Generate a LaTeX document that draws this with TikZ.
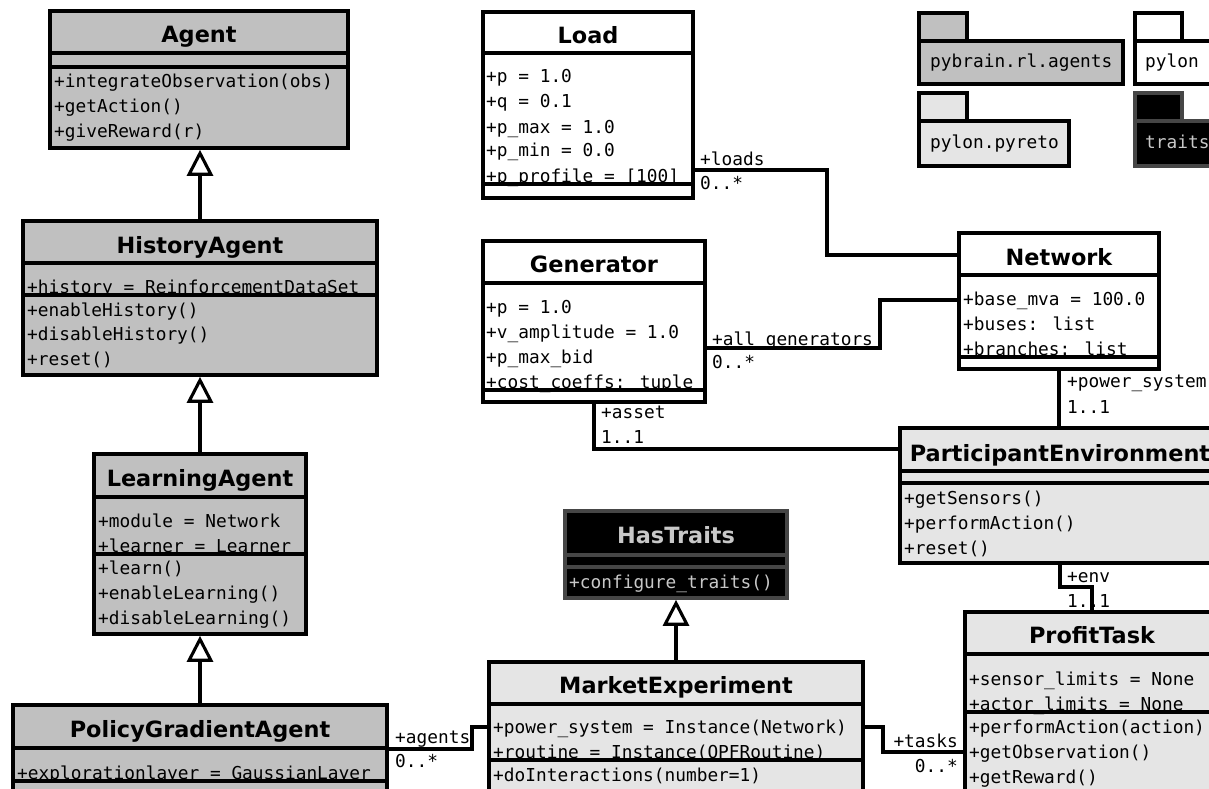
\documentclass[tikz,border=0pt]{standalone}
\usepackage{fontspec}
\setmainfont{DejaVu Sans}
\newfontfamily\umlmono{DejaVu Sans Mono}
\usetikzlibrary{calc,arrows.meta}
\definecolor{agentgray}{RGB}{192,192,192}
\definecolor{pyretogray}{RGB}{229,229,229}
\definecolor{traitsedge}{RGB}{70,70,70}
\definecolor{traitstext}{RGB}{200,200,200}
\tikzset{
  box/.style={draw=black, line width=3.1pt, inner sep=0pt, outer sep=0pt},
  sepline/.style={line width=3.1pt},
  ttl/.style={font=\fontsize{22.4}{26}\selectfont\bfseries, anchor=base, inner sep=0pt},
  mem/.style={font=\umlmono\fontsize{17.8}{20}\selectfont, anchor=base west, inner sep=0pt},
  lbl/.style={mem},
  lblr/.style={mem, anchor=base east},
  conn/.style={line width=3.1pt},
  gen/.style={line width=3.1pt, -{Triangle[open,length=26pt,width=26pt]}, shorten >=1.8pt},
}
\newcommand{\umlbox}[7][black]{\node[box, draw=#1, fill=#7, minimum width=#5pt, minimum height=#6pt, anchor=north west] (#2) at (#3,#4) {};}
\newcommand{\umlsep}[4][black]{%
  \draw[sepline, draw=#1] ($(#2.north west)+(0,#3)$) -- ($(#2.north east)+(0,#3)$);
  \draw[sepline, draw=#1] ($(#2.north west)+(0,#4)$) -- ($(#2.north east)+(0,#4)$);}
\begin{document}
\begin{tikzpicture}[x=1pt,y=-1pt]
\useasboundingbox (0,0) rectangle (1209,789);
\clip (0,0) rectangle (1209,789);

% ---------- Agent
\umlbox{agent}{50}{11}{298}{137}{agentgray}
\node[ttl] (agent-t) at (199,43) {Agent};
\node[mem] (agent-m1) at (54,88) {+integrateObservation(obs)};
\node[mem] (agent-m2) at (54,113) {+getAction()};
\node[mem] (agent-m3) at (54,138) {+giveReward(r)};
\umlsep{agent}{42}{56}

% ---------- HistoryAgent
\umlbox{history}{23}{221}{354}{154}{agentgray}
\node[ttl] (history-t) at (200,253) {HistoryAgent};
\node[mem] (history-a1) at (27,293) {+history = ReinforcementDataSet};
\node[mem] (history-m1) at (27,316) {+enableHistory()};
\node[mem] (history-m2) at (27,340) {+disableHistory()};
\node[mem] (history-m3) at (27,365) {+reset()};
\umlsep{history}{42}{74}

% ---------- LearningAgent
\umlbox{learning}{94}{454}{212}{180}{agentgray}
\node[ttl] (learning-t) at (200,486) {LearningAgent};
\node[mem] (learning-a1) at (98,527) {+module = Network};
\node[mem] (learning-a2) at (98,552) {+learner = Learner};
\node[mem] (learning-m1) at (98,574) {+learn()};
\node[mem] (learning-m2) at (98,599) {+enableLearning()};
\node[mem] (learning-m3) at (98,624) {+disableLearning()};
\umlsep{learning}{43}{100}

% ---------- PolicyGradientAgent
\umlbox{pga}{13}{705}{374}{130}{agentgray}
\node[ttl] (pga-t) at (200,737) {PolicyGradientAgent};
\node[mem] (pga-a1) at (17,779) {+explorationlayer = GaussianLayer};
\umlsep{pga}{43}{76}

% ---------- Load
\umlbox{load}{483}{12}{210}{186}{white}
\node[ttl] (load-t) at (588,44) {Load};
\node[mem] (load-a1) at (486,83) {+p = 1.0};
\node[mem] (load-a2) at (486,108) {+q = 0.1};
\node[mem] (load-a3) at (486,133) {+p\_max = 1.0};
\node[mem] (load-a4) at (486,157) {+p\_min = 0.0};
\node[mem] (load-a5) at (486,182) {+p\_profile = [100]};
\umlsep{load}{41}{172}

% ---------- Generator
\umlbox{generator}{483}{241}{222}{161}{white}
\node[ttl] (generator-t) at (594,272) {Generator};
\node[mem] (generator-a1) at (486,313) {+p = 1.0};
\node[mem] (generator-a2) at (486,338) {+v\_amplitude = 1.0};
\node[mem] (generator-a3) at (486,363) {+p\_max\_bid};
\node[mem] (generator-a4) at (486,388) {+cost\_coeffs: tuple};
\umlsep{generator}{42}{149}

% ---------- Network
\umlbox{network}{959}{233}{200}{136}{white}
\node[ttl] (network-t) at (1059,265) {Network};
\node[mem] (network-a1) at (963,305) {+base\_mva = 100.0};
\node[mem] (network-a2) at (963,330) {+buses: list};
\node[mem] (network-a3) at (963,355) {+branches: list};
\umlsep{network}{42}{124}

% ---------- ParticipantEnvironment
\umlbox{pe}{900}{428}{320}{135}{pyretogray}
\node[ttl] (pe-t) at (1060,461) {ParticipantEnvironment};
\node[mem] (pe-m1) at (904,504) {+getSensors()};
\node[mem] (pe-m2) at (904,529) {+performAction()};
\node[mem] (pe-m3) at (904,554) {+reset()};
\umlsep{pe}{43}{55}

% ---------- ProfitTask
\umlbox{profit}{965}{612}{254}{200}{pyretogray}
\node[ttl] (profit-t) at (1092,643) {ProfitTask};
\node[mem] (profit-a1) at (969,685) {+sensor\_limits = None};
\node[mem] (profit-a2) at (969,710) {+actor\_limits = None};
\node[mem] (profit-m1) at (969,733) {+performAction(action)};
\node[mem] (profit-m2) at (969,758) {+getObservation()};
\node[mem] (profit-m3) at (969,783) {+getReward()};
\umlsep{profit}{42}{100}

% ---------- HasTraits
\umlbox[traitsedge]{hastraits}{565}{511}{222}{87}{black}
\node[ttl, text=traitstext] (hastraits-t) at (676,543) {HasTraits};
\node[mem, text=traitstext] (hastraits-m1) at (569,588) {+configure\_traits()};
\umlsep[traitsedge]{hastraits}{44}{56}

% ---------- MarketExperiment
\umlbox{market}{489}{662}{374}{150}{pyretogray}
\node[ttl] (market-t) at (676,693) {MarketExperiment};
\node[mem] (market-a1) at (493,733) {+power\_system = Instance(Network)};
\node[mem] (market-a2) at (493,758) {+routine = Instance(OPFRoutine)};
\node[mem] (market-m1) at (493,781) {+doInteractions(number=1)};
\umlsep{market}{42}{98}

% ---------- Packages
\umlbox{pkgagents-tab}{919}{13}{48}{28}{agentgray}
\umlbox{pkgagents}{919}{41}{204}{43}{agentgray}
\node[mem] (pkgagents-t) at (930,68) {pybrain.rl.agents};
\umlbox{pkgpylon-tab}{1135}{13}{47}{28}{white}
\umlbox{pkgpylon}{1135}{41}{85}{43}{white}
\node[mem] (pkgpylon-t) at (1145,68) {pylon};
\umlbox{pkgpyreto-tab}{919}{93}{48}{28}{pyretogray}
\umlbox{pkgpyreto}{919}{121}{150}{45}{pyretogray}
\node[mem] (pkgpyreto-t) at (930,148) {pylon.pyreto};
\umlbox[traitsedge]{pkgtraits-tab}{1135}{93}{47}{28}{black}
\umlbox[traitsedge]{pkgtraits}{1135}{121}{85}{45}{black}
\node[mem, text=traitstext] (pkgtraits-t) at (1145,148) {traits};

% ---------- association labels
\node[lbl] (loads-r) at (700,165) {+loads};
\node[lbl] (loads-m) at (700,189) {0..*};
\node[lbl] (gens-r) at (712,345) {+all\_generators};
\node[lbl] (gens-m) at (712,368) {0..*};
\node[lbl] (asset-r) at (601,418) {+asset};
\node[lbl] (asset-m) at (601,443) {1..1};
\node[lbl] (ps-r) at (1067,387) {+power\_system};
\node[lbl] (ps-m) at (1067,413) {1..1};
\node[lbl] (env-r) at (1067,582) {+env};
\node[lbl] (env-m) at (1067,607) {1..1};
\node[lblr] (tasks-r) at (958,747) {+tasks};
\node[lblr] (tasks-m) at (958,772) {0..*};
\node[lbl] (agents-r) at (395,743) {+agents};
\node[lbl] (agents-m) at (395,767) {0..*};

% ---------- associations
\draw[conn] ($(load.north east)+(0,158)$) -| ($(network.north west)+(-132,22)$) -- ($(network.north west)+(0,22)$);
\draw[conn] ($(generator.north east)+(0,107)$) -| ($(network.north west)+(-79,67)$) -- ($(network.north west)+(0,67)$);
\draw[conn] (generator.south) |- ($(pe.north west)+(0,21)$);
\draw[conn] (network.south) -- (network.south |- pe.north);
\draw[conn] (pe.south) |- ($(profit.north)+(0,-25)$) -- (profit.north);
\draw[conn] ($(market.north east)+(0,65)$) -| ($(profit.north west)+(-82,140)$) -- ($(profit.north west)+(0,140)$);
\draw[conn] ($(pga.north east)+(0,44)$) -| ($(market.north west)+(-17,65)$) -- ($(market.north west)+(0,65)$);

% ---------- generalizations
\draw[gen] (history.north) -- (history.north |- agent.south);
\draw[gen] (learning.north) -- (learning.north |- history.south);
\draw[gen] (pga.north) -- (pga.north |- learning.south);
\draw[gen] (market.north) -- (market.north |- hastraits.south);
\end{tikzpicture}
\end{document}
